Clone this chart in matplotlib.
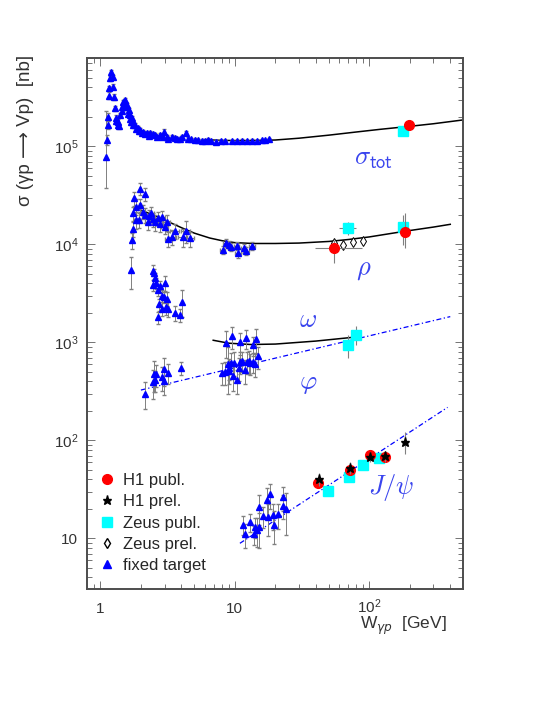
import math
import matplotlib
matplotlib.use("Agg")
import matplotlib.pyplot as plt
from matplotlib.lines import Line2D
from matplotlib.ticker import FixedLocator, LogLocator, FuncFormatter, NullFormatter

plt.rcParams['font.family'] = ['Liberation Sans', 'DejaVu Sans']
plt.rcParams['mathtext.default'] = 'it'

# ---- sigma_tot : fixed target (W [GeV], sigma [nb], err [nb]) ----
tot_w = [1.116, 1.135, 1.147, 1.16, 1.165, 1.18, 1.20, 1.23, 1.25, 1.26, 1.29, 1.295, 1.31, 1.34,
         1.36, 1.38, 1.40, 1.44, 1.45, 1.48, 1.50, 1.53, 1.55, 1.57, 1.60, 1.62, 1.65, 1.67,
         1.70, 1.71, 1.75, 1.76, 1.81, 1.85, 1.90, 1.95, 1.97, 2.05, 2.09, 2.15, 2.21, 2.30,
         2.34, 2.45, 2.55, 2.65, 2.78, 2.90, 2.95, 3.12, 3.20, 3.40, 3.60, 3.70, 3.90, 4.05,
         4.30, 4.50, 4.70, 5.05, 5.30, 5.65, 6.00, 6.30, 6.70, 7.30, 7.90, 8.50, 9.50, 10.3,
         11.3, 12.3, 13.4, 14.5, 15.9, 16.8, 17.8]
tot_s = [116e3, 165e3, 200e3, 330e3, 390e3, 495e3, 570e3, 510e3, 405e3, 320e3, 245e3, 195e3, 180e3, 165e3,
         178e3, 160e3, 209e3, 254e3, 230e3, 285e3, 270e3, 297e3, 250e3, 264e3, 215e3, 235e3, 190e3, 210e3,
         175e3, 193e3, 165e3, 178e3, 165e3, 150e3, 153e3, 142e3, 148e3, 138e3, 141e3, 133e3, 136e3, 128e3,
         136e3, 133e3, 130e3, 125e3, 130e3, 124e3, 141e3, 125e3, 120e3, 125e3, 122e3, 120e3, 118e3, 125e3,
         136e3, 119e3, 118e3, 116e3, 115e3, 114e3, 112e3, 116e3, 113e3, 111e3, 113e3, 112e3, 113e3, 112e3,
         114e3, 113e3, 114e3, 112e3, 116e3, 115e3, 118e3]
tot_err = [14e3, 16e3, 18e3, 25e3, 25e3, 30e3, 30e3, 28e3, 25e3, 20e3, 15e3, 12e3, 11e3, 10e3,
           10e3, 9e3, 12e3, 14e3, 12e3, 15e3, 14e3, 15e3, 13e3, 13e3, 11e3, 12e3, 10e3, 11e3,
           9e3, 10e3, 9e3, 9e3, 8e3, 8e3, 8e3, 7e3, 7e3, 7e3, 7e3, 6e3, 6e3, 6e3,
           6e3, 6e3, 6e3, 6e3, 6e3, 6e3, 8e3, 6e3, 5e3, 6e3, 5e3, 5e3, 5e3, 6e3,
           7e3, 5e3, 5e3, 5e3, 4e3, 4e3, 4e3, 5e3, 4e3, 4e3, 4e3, 4e3, 4e3, 4e3,
           4e3, 4e3, 4e3, 4e3, 4e3, 4e3, 4e3]
tot_thr_w, tot_thr_s, tot_thr_lo, tot_thr_hi = 1.10, 78e3, 40e3, 150e3

# ---- rho fixed target ----
rho_w = [1.73, 1.75, 1.75, 1.78, 1.83, 1.85, 1.95, 1.97, 1.97, 2.08, 2.13, 2.16, 2.24, 2.30, 2.39,
         2.44, 2.55, 2.67, 2.79, 2.89, 3.00, 3.12, 3.20, 3.43, 3.57, 4.10, 4.30, 4.65,
         8.1, 8.6, 9.0, 9.35, 10.3, 10.6, 11.6, 12.1, 13.4]
rho_s = [11000, 14300, 20700, 29500, 17700, 24200, 17700, 25200, 37000, 21500, 19900, 33000, 17000, 19400, 20700,
         18000, 16700, 18400, 16000, 19000, 15100, 16700, 11300, 11900, 13800, 11800, 13700, 11500,
         8800, 10400, 9800, 9500, 9600, 8100, 9100, 8600, 9600]
rho_err = [2000, 2500, 3500, 5000, 3500, 4500, 3000, 4000, 5000, 3500, 3500, 5000, 3000, 3000, 3500,
           3000, 3000, 3000, 2500, 3000, 2500, 3000, 2000, 2000, 2500, 2500, 3500, 2000,
           800, 1000, 900, 900, 900, 800, 900, 800, 900]
rho_xerr = [0, 0, 0, 0, 0.05, 0.05, 0.05, 0.05, 0, 0.08, 0.08, 0, 0.1, 0.1, 0.1,
            0.1, 0.15, 0.15, 0.15, 0.15, 0.2, 0.2, 0.2, 0.25, 0.25, 0.3, 0.3, 0.35,
            0.4, 0.4, 0.4, 0.5, 0.5, 0.5, 0.5, 0.6, 0.6]

# ---- omega fixed target ----
omg_w = [1.68, 2.45, 2.47, 2.49, 2.55, 2.60, 2.68, 2.70, 2.74, 2.79, 2.89, 2.89, 2.96, 3.04,
         3.09, 3.12, 3.20, 3.60, 3.90, 4.05, 8.55, 9.6, 10.9, 12.2, 13.6, 14.4]
omg_s = [5500, 5400, 3850, 5060, 4500, 4000, 1800, 3400, 2450, 3740, 3000, 2200, 2900, 4060,
         2300, 2800, 2200, 2000, 1900, 2600, 990, 1150, 1000, 1100, 930, 1080]
omg_err = [2000, 700, 500, 600, 600, 500, 250, 450, 350, 500, 400, 350, 400, 700,
           400, 450, 400, 350, 300, 800, 300, 300, 250, 250, 200, 300]

# ---- phi fixed target ----
phi_w = [2.15, 2.45, 2.49, 2.53, 2.60, 2.89, 2.96, 2.96, 3.18, 3.95, 8.0, 8.5, 8.9, 9.0, 9.1,
         9.35, 9.7, 9.9, 10.3, 10.8, 11.0, 11.3, 11.9, 12.4, 12.8, 13.0, 13.6, 14.2, 14.9]
phi_s = [300, 395, 480, 410, 470, 440, 530, 400, 490, 545, 490, 500, 600, 545, 510,
         620, 450, 620, 410, 545, 630, 650, 520, 630, 650, 610, 630, 600, 720]
phi_err = [90, 130, 170, 100, 120, 120, 170, 110, 110, 80, 120, 130, 300, 130, 130,
           150, 130, 170, 110, 140, 160, 150, 140, 160, 170, 150, 140, 160, 180]

# ---- J/psi fixed target ----
jpsi_w = [11.4, 11.8, 12.95, 13.8, 14.2, 14.7, 15.1, 15.1, 16.2, 17.3, 17.5, 18.2, 19.1, 19.5,
          21.1, 22.7, 22.7, 24.0]
jpsi_s = [13.8, 11.0, 14.6, 11.0, 13.0, 12.2, 20.7, 13.0, 16.9, 24.6, 16.5, 28.1, 17.2, 13.8,
          17.6, 21.6, 26.2, 19.7]
jpsi_err = [3, 3, 3, 2.5, 3, 4, 7, 5, 4, 8, 6, 8, 5, 5, 5, 6, 7, 9]

# ---- HERA ----
h1_w = [197, 54.7, 184, 41.8, 71.7, 101, 130]
h1_s = [165e3, 9100, 13500, 36.4, 50.3, 70.8, 67.9]
h1_elo = [4e3, 2600, 4400, 4, 5, 6, 6]
h1_ehi = [4e3, 2000, 7200, 4, 5, 6, 6]
h1_xlo = [0, 15, 0, 0, 0, 0, 0]
h1_xhi = [0, 34, 0, 0, 0, 0, 0]

h1p_w = [42.3, 71.7, 101, 130, 184]
h1p_s = [40.3, 52.7, 67.9, 68.9, 96.8]
h1p_err = [6, 7, 8, 9, 25]

zeus_w = [177, 69.5, 177, 69.5, 79, 49.6, 71, 89, 118]
zeus_s = [143e3, 14600, 14900, 950, 1200, 30.4, 42.3, 56.2, 65.5]
zeus_err = [5e3, 2200, 5000, 250, 260, 3, 5, 5, 6]
zeus_xerr = [0, 10, 0, 0, 0, 0, 0, 0, 0]

zeusp_w = [54.7, 64.2, 75.2, 89]
zeusp_s = [10400, 9800, 10600, 10900]

# ---- model curves ----
fit_tot_w = [5.8, 8, 10, 13, 20, 30, 50, 80, 120, 200, 300, 500]
fit_tot_s = [117e3, 115e3, 114.5e3, 114.5e3, 116e3, 121e3, 130e3, 140e3, 149e3, 160e3, 170e3, 186e3]
fit_rho_w = [2.0, 2.5, 3.0, 4.0, 5.0, 6.5, 8.0, 10, 13.7, 20, 30, 50, 70, 100, 184, 300, 400]
fit_rho_s = [22300, 19800, 17700, 14800, 13000, 11600, 10900, 10400, 10200, 10200, 10300, 10700, 11200,
             11900, 13600, 15000, 16000]
fit_omg_w = [6.9, 9, 13.2, 20, 40, 83]
fit_omg_s = [1050, 980, 950, 960, 1030, 1140]
fit_phi_w = [2.0, 400]
fit_phi_s = [326, 1830]
fit_jpsi_w = [10.9, 382]
fit_jpsi_s = [8.9, 217]

labels = [(r'$\sigma_{\mathsf{tot}}$', 77, 7.4e4), (r'$\rho$', 80, 5.5e3), (r'$\omega$', 30, 1.7e3),
          (r'$\varphi$', 30, 380), (r'$J/\psi$', 97, 33)]

fig = plt.figure(figsize=(5.45, 7.05), dpi=100)
ax = fig.add_axes([0.159, 0.1645, 0.690, 0.7535])
ax.set_xscale('log')
ax.set_yscale('log')
ax.set_xlim(0.79, 495)
ax.set_ylim(3.04, 8.0e5)

dashdot = (0, (4, 2, 1, 2))
ax.plot(fit_tot_w, fit_tot_s, color='black', lw=1.1, zorder=2)
ax.plot(fit_rho_w, fit_rho_s, color='black', lw=1.1, zorder=2)
ax.plot(fit_omg_w, fit_omg_s, color='black', lw=1.1, zorder=2)
ax.plot(fit_phi_w, fit_phi_s, color='blue', lw=0.9, ls=dashdot, zorder=2)
ax.plot(fit_jpsi_w, fit_jpsi_s, color='blue', lw=0.9, ls=dashdot, zorder=2)

ft = dict(fmt='^', color='blue', ms=4, ecolor='0.5', elinewidth=0.7, capsize=1.5, zorder=3)
ax.errorbar(tot_w, tot_s, yerr=tot_err, **ft)
ax.errorbar([tot_thr_w], [tot_thr_s], yerr=[[tot_thr_lo], [tot_thr_hi]], **ft)
ax.errorbar(rho_w, rho_s, yerr=rho_err, xerr=rho_xerr, **ft)
ax.errorbar(omg_w, omg_s, yerr=omg_err, **ft)
ax.errorbar(phi_w, phi_s, yerr=phi_err, **ft)
ax.errorbar(jpsi_w, jpsi_s, yerr=jpsi_err, **ft)

ax.errorbar(zeus_w, zeus_s, yerr=zeus_err, xerr=zeus_xerr, fmt='s', color='cyan', ms=6.5,
            ecolor='0.5', elinewidth=0.8, zorder=4)
ax.plot(zeusp_w, zeusp_s, 'd', mfc='white', mec='black', ms=5, mew=0.7, ls='none', zorder=4)
ax.errorbar(h1_w, h1_s, yerr=[h1_elo, h1_ehi], xerr=[h1_xlo, h1_xhi], fmt='o', color='red', ms=7,
            ecolor='0.5', elinewidth=0.8, zorder=5)
ax.errorbar(h1p_w, h1p_s, yerr=h1p_err, fmt='*', color='black', ms=6.5,
            ecolor='0.5', elinewidth=0.8, zorder=6)

for txt, x, y in labels:
    ax.text(x, y, txt, color='#3a45ee', fontsize=19, ha='left', va='center', math_fontfamily='cm')

# axes style
for sp in ax.spines.values():
    sp.set_color('0.3')
    sp.set_linewidth(1.4)
ax.tick_params(which='both', direction='in', top=True, right=True, color='0.45', width=0.7,
               labelsize=11, labelcolor='0.2')
ax.tick_params(which='major', length=6)
ax.tick_params(which='minor', length=3.5)
ax.tick_params(axis='x', which='major', pad=17)
ax.tick_params(axis='y', which='major', pad=6)


def log_label(v, pos):
    if v == 1:
        return '1'
    if v == 10:
        return '10'
    return r'$\mathregular{10^{%d}}$' % round(math.log10(v))


ax.xaxis.set_major_locator(FixedLocator([1, 10, 100]))
ax.yaxis.set_major_locator(FixedLocator([10, 1e2, 1e3, 1e4, 1e5]))
ax.xaxis.set_major_formatter(FuncFormatter(log_label))
ax.yaxis.set_major_formatter(FuncFormatter(log_label))
ax.xaxis.set_minor_locator(LogLocator(base=10, subs=range(2, 10), numticks=20))
ax.yaxis.set_minor_locator(LogLocator(base=10, subs=range(2, 10), numticks=20))
ax.xaxis.set_minor_formatter(NullFormatter())
ax.yaxis.set_minor_formatter(NullFormatter())
for lab in ax.get_xticklabels():
    lab.set_va('baseline')

fig.text(26 / 545, 1 - 55 / 705, u'\u03c3 (\u03b3p \u27f6 Vp)  [nb]', rotation=90, ha='center', va='top',
         fontsize=13.5, color='0.2')
fig.text(447 / 545, 1 - 629 / 705, r'$\mathregular{W}_{\gamma p}$  [GeV]', ha='right', va='baseline',
         fontsize=12.5, color='0.2')

handles = [Line2D([], [], marker='o', color='red', ls='none', ms=7),
           Line2D([], [], marker='*', color='black', ls='none', ms=6.5),
           Line2D([], [], marker='s', color='cyan', ls='none', ms=6.5),
           Line2D([], [], marker='d', mfc='white', mec='black', ls='none', ms=5),
           Line2D([], [], marker='^', color='blue', ls='none', ms=6)]
names = ['H1 publ.', 'H1 prel.', 'Zeus publ.', 'Zeus prel.', 'fixed target']
leg = ax.legend(handles, names, loc='upper left', bbox_to_anchor=(98.7 / 545, 1 - 473 / 705),
                bbox_transform=fig.transFigure, frameon=False, fontsize=12, handlelength=1.0,
                handletextpad=0.45, labelspacing=0.38, borderpad=0, borderaxespad=0)
for t in leg.get_texts():
    t.set_color('0.15')

fig.savefig('out.png', dpi=100)
